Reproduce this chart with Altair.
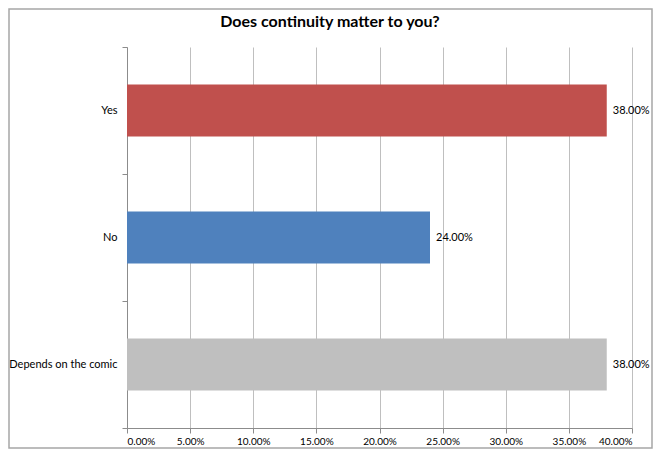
import altair as alt
import pandas as pd

title_text = "Does continuity matter to you?"
categories = ["Yes", "No", "Depends on the comic"]
values = [0.38, 0.24, 0.38]
colors = ["#C0504D", "#4F81BD", "#BFBFBF"]
x_ticks = [0.0, 0.05, 0.10, 0.15, 0.20, 0.25, 0.30, 0.35, 0.40]

df = pd.DataFrame({"answer": categories, "share": values, "color": colors})

W, H = 505, 381
PAD_L, PAD_T, PAD_R, PAD_B = 119, 39, 21, 21

y_enc = alt.Y(
    "answer:N",
    sort=categories,
    title=None,
    scale=alt.Scale(paddingInner=0, paddingOuter=0),
    axis=alt.Axis(
        tickBand="extent",
        domainColor="#8C8C8C",
        tickColor="#8C8C8C",
        tickSize=5,
        labelFontSize=11,
        labelFont="Lato",
        labelColor="#000000",
        labelPadding=5,
        grid=False,
    ),
)
x_enc = alt.X(
    "share:Q",
    title=None,
    scale=alt.Scale(domain=[0, 0.4], nice=False),
    axis=alt.Axis(
        values=x_ticks,
        format=".2%",
        grid=True,
        gridColor="#BFBFBF",
        gridWidth=1,
        domainColor="#8C8C8C",
        tickColor="#8C8C8C",
        tickSize=5,
        labelFontSize=10,
        labelFont="Lato",
        labelColor="#000000",
        labelPadding=3,
    ),
)

base = alt.Chart(df)
bars = base.mark_bar(height=alt.RelativeBandSize(band=0.41)).encode(
    x=x_enc, y=y_enc, color=alt.Color("color:N", scale=None)
)
labels = base.mark_text(
    align="left", dx=6, fontSize=11, font="Lato", color="#000000"
).encode(x="share:Q", y=alt.Y("answer:N", sort=categories), text=alt.Text("share:Q", format=".2%"))

title = alt.Chart(pd.DataFrame({"t": [title_text]})).mark_text(
    fontSize=16, fontWeight="bold", font="Lato", color="#000000"
).encode(x=alt.value(203), y=alt.value(-25), text="t:N")

border = alt.Chart(pd.DataFrame({"t": [0]})).mark_rect(
    fill="transparent", stroke="#A6A6A6", strokeWidth=1.5
).encode(
    x=alt.value(-PAD_L + 1),
    x2=alt.value(W + PAD_R - 1),
    y=alt.value(-PAD_T + 1),
    y2=alt.value(H + PAD_B - 1),
)

chart = (
    alt.layer(bars, labels, title, border)
    .properties(
        width=W,
        height=H,
        autosize=alt.AutoSizeParams(type="none"),
        padding={"left": PAD_L, "top": PAD_T, "right": PAD_R, "bottom": PAD_B},
    )
    .configure_view(strokeWidth=0)
)

chart.save("out.html", embed_options={"renderer": "svg", "actions": False})
